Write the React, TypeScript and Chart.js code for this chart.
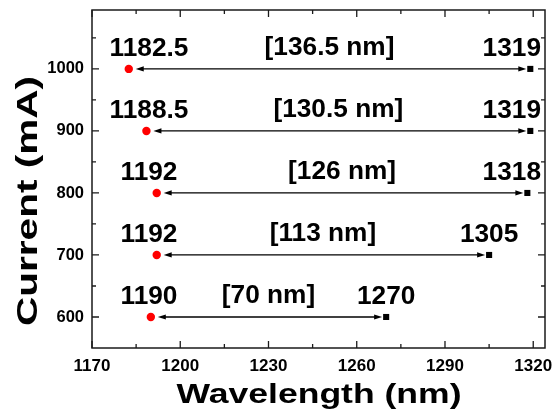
import React, { useEffect, useRef } from 'react';
import { Chart, registerables } from 'chart.js';

Chart.register(...registerables);

// ---- data ----
const currents = [1000, 900, 800, 700, 600];
const startWavelengths = [1182.5, 1188.5, 1192, 1192, 1190];
const endWavelengths = [1319, 1319, 1318, 1305, 1270];
const startLabels = ['1182.5', '1188.5', '1192', '1192', '1190'];
const endLabels = ['1319', '1319', '1318', '1305', '1270'];
const spanLabels = ['[136.5 nm]', '[130.5 nm]', '[126 nm]', '[113 nm]', '[70 nm]'];
const xTicks = [1170, 1200, 1230, 1260, 1290, 1320];
const xMinorTicks = [1185, 1215, 1245, 1275, 1305];
const yTicks = [600, 700, 800, 900, 1000];
const yMinorTicks = [650, 750, 850, 950, 1050];
const xRange = [1170, 1324];
const yRange = [550, 1095];
const xTitle = 'Wavelength (nm)';
const yTitle = 'Current (mA)';

const FONT = 'Arial, "Liberation Sans", sans-serif';

function drawText(
  ctx: CanvasRenderingContext2D,
  text: string,
  x: number,
  y: number,
  size: number,
  align: CanvasTextAlign,
  sx: number,
  rotate = false
) {
  ctx.save();
  ctx.translate(x, y);
  if (rotate) ctx.rotate(-Math.PI / 2);
  ctx.scale(sx, 1);
  ctx.font = `bold ${size}px ${FONT}`;
  ctx.textAlign = align;
  ctx.textBaseline = 'alphabetic';
  ctx.fillStyle = '#000';
  ctx.fillText(text, 0, 0);
  ctx.restore();
}

function textWidth(ctx: CanvasRenderingContext2D, text: string, size: number) {
  ctx.save();
  ctx.font = `bold ${size}px ${FONT}`;
  const w = ctx.measureText(text).width;
  ctx.restore();
  return w;
}

const overlayPlugin = {
  id: 'overlay',
  beforeDatasetsDraw(chart: any) {
    const { ctx, scales } = chart;
    const xs = scales.x;
    const ys = scales.y;
    ctx.save();
    ctx.strokeStyle = '#000';
    ctx.fillStyle = '#000';
    ctx.lineWidth = 1.3;
    const head = 8;
    const hw = 2.6;
    currents.forEach((c, i) => {
      const y = ys.getPixelForValue(c);
      const x1 = xs.getPixelForValue(startWavelengths[i]) + 7;
      const x2 = xs.getPixelForValue(endWavelengths[i]) - 4;
      ctx.beginPath();
      ctx.moveTo(x1 + head - 1, y);
      ctx.lineTo(x2 - head + 1, y);
      ctx.stroke();
      ctx.beginPath();
      ctx.moveTo(x1, y);
      ctx.lineTo(x1 + head, y - hw);
      ctx.lineTo(x1 + head, y + hw);
      ctx.closePath();
      ctx.fill();
      ctx.beginPath();
      ctx.moveTo(x2, y);
      ctx.lineTo(x2 - head, y - hw);
      ctx.lineTo(x2 - head, y + hw);
      ctx.closePath();
      ctx.fill();
    });
    ctx.restore();
  },
  afterDraw(chart: any) {
    const { ctx, scales, chartArea } = chart;
    const xs = scales.x;
    const ys = scales.y;
    const { left, right, top, bottom } = chartArea;

    // frame
    ctx.save();
    ctx.strokeStyle = '#1a1a1a';
    ctx.lineWidth = 1.5;
    ctx.strokeRect(left, top, right - left, bottom - top);

    // inward ticks
    const major = 7;
    const minor = 4;
    ctx.lineWidth = 1.3;
    ctx.beginPath();
    const xt = (v: number, len: number) => {
      const p = xs.getPixelForValue(v);
      ctx.moveTo(p, bottom);
      ctx.lineTo(p, bottom - len);
      ctx.moveTo(p, top);
      ctx.lineTo(p, top + len);
    };
    const yt = (v: number, len: number) => {
      const p = ys.getPixelForValue(v);
      ctx.moveTo(left, p);
      ctx.lineTo(left + len, p);
      ctx.moveTo(right, p);
      ctx.lineTo(right - len, p);
    };
    xTicks.forEach((v) => xt(v, major));
    xMinorTicks.forEach((v) => xt(v, minor));
    yTicks.forEach((v) => yt(v, major));
    yMinorTicks.forEach((v) => yt(v, minor));
    ctx.stroke();
    ctx.restore();

    // annotations
    const size = 25;
    const sx = 1.05;
    currents.forEach((c, i) => {
      const y = ys.getPixelForValue(c);
      const p1 = xs.getPixelForValue(startWavelengths[i]);
      const p2 = xs.getPixelForValue(endWavelengths[i]);
      drawText(ctx, startLabels[i], left + 57, y - 13, size, 'center', sx);
      drawText(ctx, spanLabels[i], (p1 + p2) / 2, y - 14, size, 'center', sx);
      const w = textWidth(ctx, endLabels[i], size) * sx;
      let cx = p2;
      if (cx + w / 2 > right - 4) cx = right - 4 - w / 2;
      drawText(ctx, endLabels[i], cx, y - 13, size, 'center', sx);
    });

    // axis titles
    const xtSize = 28;
    const xtW = textWidth(ctx, xTitle, xtSize);
    drawText(ctx, xTitle, (left + right) / 2 + 0.5, chart.height - 13, xtSize, 'center', 285 / xtW);
    const ytSize = 30;
    const ytW = textWidth(ctx, yTitle, ytSize);
    drawText(ctx, yTitle, 36.5, (top + bottom) / 2 + 22, ytSize, 'center', 250 / ytW, true);
  },
};

export default function App() {
  const canvasRef = useRef<HTMLCanvasElement | null>(null);

  useEffect(() => {
    document.body.style.margin = '0';
    const canvas = canvasRef.current;
    if (!canvas) return;
    const chart = new Chart(canvas, {
      type: 'scatter',
      data: {
        datasets: [
          {
            label: 'start',
            data: startWavelengths.map((x, i) => ({ x, y: currents[i] })),
            pointStyle: 'circle',
            pointRadius: 4.2,
            pointBackgroundColor: '#ff0000',
            pointBorderWidth: 0,
            showLine: false,
          },
          {
            label: 'end',
            data: endWavelengths.map((x, i) => ({ x, y: currents[i] })),
            pointStyle: 'rect',
            pointRadius: 4.3,
            pointBackgroundColor: '#000000',
            pointBorderWidth: 0,
            showLine: false,
          },
        ],
      },
      options: {
        animation: false,
        responsive: false,
        devicePixelRatio: 1,
        layout: { padding: { top: 10, right: 8, left: 0, bottom: 0 } },
        plugins: {
          legend: { display: false },
          tooltip: { enabled: false },
        },
        scales: {
          x: {
            type: 'linear',
            min: xRange[0],
            max: xRange[1],
            grid: { display: false, drawTicks: false },
            border: { display: false },
            afterBuildTicks: (s: any) => {
              s.ticks = xTicks.map((v) => ({ value: v }));
            },
            afterFit: (s: any) => {
              s.height = 68;
              s.paddingLeft = 0;
              s.paddingRight = 0;
            },
            ticks: {
              autoSkip: false,
              maxRotation: 0,
              padding: 8,
              color: '#000',
              font: { family: FONT, size: 17, weight: 'bold' },
              callback: (v: any) => String(v),
            },
          },
          y: {
            type: 'linear',
            min: yRange[0],
            max: yRange[1],
            grid: { display: false, drawTicks: false },
            border: { display: false },
            afterBuildTicks: (s: any) => {
              s.ticks = yTicks.map((v) => ({ value: v }));
            },
            afterFit: (s: any) => {
              s.width = 92;
              s.paddingTop = 0;
              s.paddingBottom = 0;
            },
            ticks: {
              autoSkip: false,
              padding: 8,
              color: '#000',
              font: { family: FONT, size: 16.5, weight: 'bold' },
              callback: (v: any) => String(v),
            },
          },
        },
      },
      plugins: [overlayPlugin],
    });
    return () => chart.destroy();
  }, []);

  return (
    <div style={{ width: 553, height: 416 }}>
      <canvas ref={canvasRef} width={553} height={416} style={{ display: 'block' }} />
    </div>
  );
}
